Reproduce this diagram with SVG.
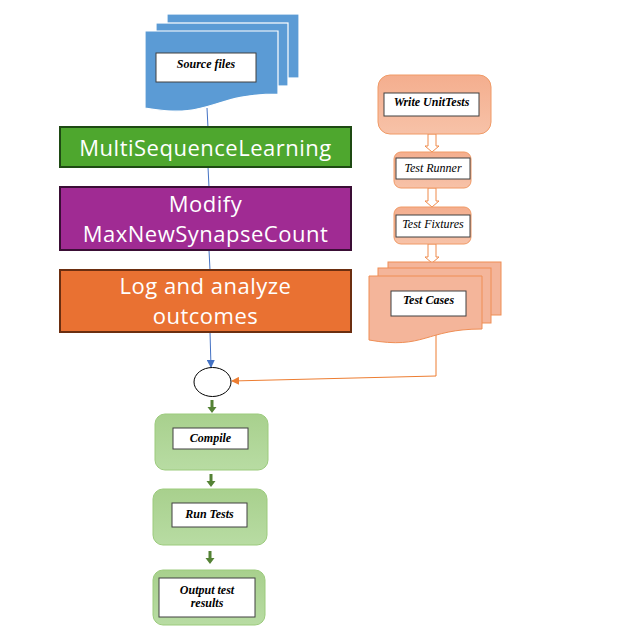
<svg xmlns="http://www.w3.org/2000/svg" width="642" height="642" viewBox="0 0 642 642">
<defs>
<style>
.doc{fill:#5B9BD5;stroke:#ffffff;stroke-width:1.2}
.odoc{fill:#F4B59A;stroke:#EF8E55;stroke-width:1}
.lbl{fill:#ffffff;stroke:#404040;stroke-width:1}
.sv{font-family:"Liberation Serif","Times New Roman",serif;font-size:12px;fill:#000;text-anchor:middle}
.bi{font-weight:bold;font-style:italic}
.it{font-style:italic}
.big{font-family:"Open Sans","Noto Sans",sans-serif;font-size:22px;letter-spacing:0.5px;fill:#ffffff;text-anchor:middle}
.gbox{fill:url(#gg);stroke:#9CCB7D;stroke-width:1}
.obox{fill:url(#og);stroke:#F09A66;stroke-width:1}
.harrow{fill:#ffffff;stroke:#EF8A4B;stroke-width:1}
.garrow{fill:#548235}
</style>
<linearGradient id="gg" x1="0" y1="0" x2="0" y2="1">
<stop offset="0" stop-color="#A8D08D"/><stop offset="1" stop-color="#B8DCA3"/>
</linearGradient>
<linearGradient id="og" x1="0" y1="0" x2="0" y2="1">
<stop offset="0" stop-color="#F4AE8E"/><stop offset="1" stop-color="#F7C2A8"/>
</linearGradient>
<marker id="ab" markerWidth="8" markerHeight="8" refX="7" refY="4" orient="auto" markerUnits="userSpaceOnUse">
<path d="M0,0 L8,4 L0,8 Z" fill="#4472C4"/>
</marker>
<marker id="ao" markerWidth="8" markerHeight="8" refX="7" refY="4" orient="auto" markerUnits="userSpaceOnUse">
<path d="M0,0 L8,4 L0,8 Z" fill="#ED7D31"/>
</marker>
</defs>

<g id="connectors">
<line x1="207" y1="108" x2="208" y2="128" stroke="#4472C4" stroke-width="1"/>
<line x1="208" y1="167" x2="209" y2="187" stroke="#4472C4" stroke-width="1"/>
<line x1="209" y1="250" x2="210" y2="270" stroke="#4472C4" stroke-width="1"/>
<line x1="210" y1="332" x2="211" y2="367" stroke="#4472C4" stroke-width="1" marker-end="url(#ab)"/>
<polyline points="436,334 436,376 232,381" fill="none" stroke="#ED7D31" stroke-width="1" marker-end="url(#ao)"/>
<path class="garrow" d="M210.5,400 h3 v7 h3 l-4.5,6 l-4.5,-6 h3 Z"/>
<path class="garrow" d="M209.5,474 h3 v7 h3 l-4.5,6 l-4.5,-6 h3 Z"/>
<path class="garrow" d="M208.5,551 h3 v7 h3 l-4.5,6 l-4.5,-6 h3 Z"/>
<path class="harrow" d="M428,134 h8 v12 h3 l-7,6 l-7,-6 h3 Z"/>
<path class="harrow" d="M428,188 h8 v13 h3 l-7,6 l-7,-6 h3 Z"/>
<path class="harrow" d="M428,244 h8 v13 h3 l-7,6 l-7,-6 h3 Z"/>
</g>

<g id="source-files">
<rect class="doc" x="167" y="14" width="132" height="64"/>
<rect class="doc" x="156" y="23" width="132" height="63"/>
<path class="doc" d="M145,31 H278 V94 C211,94 211,120 145,108 Z"/>
<rect class="lbl" x="156" y="53" width="100" height="29"/>
<text class="sv bi" x="206" y="68">Source files</text>
</g>

<g id="multisequencelearning">
<rect x="60" y="127" width="291" height="40" fill="#4EA72E" stroke="#1E4A13" stroke-width="2"/>
<text class="big" x="205.5" y="156">MultiSequenceLearning</text>
</g>

<g id="modify">
<rect x="60" y="187" width="291" height="63" fill="#A02B93" stroke="#3A0E35" stroke-width="2"/>
<text class="big" x="205.5" y="212">Modify</text>
<text class="big" x="205.5" y="242">MaxNewSynapseCount</text>
</g>

<g id="log">
<rect x="60" y="270" width="291" height="62" fill="#E97132" stroke="#6B2E10" stroke-width="2"/>
<text class="big" x="205.5" y="294">Log and analyze</text>
<text class="big" x="205.5" y="324">outcomes</text>
</g>

<g id="merge">
<ellipse cx="212.5" cy="382" rx="18.5" ry="14.5" fill="#ffffff" stroke="#000000" stroke-width="1"/>
</g>

<g id="compile">
<rect class="gbox" x="155" y="414" width="113" height="56" rx="10"/>
<rect class="lbl" x="173" y="428" width="75" height="21"/>
<text class="sv bi" x="210.5" y="442">Compile</text>
</g>

<g id="run-tests">
<rect class="gbox" x="153" y="489" width="114" height="56" rx="10"/>
<rect class="lbl" x="172" y="503" width="75" height="24"/>
<text class="sv bi" x="209.5" y="518">Run Tests</text>
</g>

<g id="output">
<rect class="gbox" x="153" y="570" width="112" height="55" rx="10"/>
<rect class="lbl" x="159" y="578" width="96" height="39"/>
<text class="sv bi" x="207" y="594">Output test</text>
<text class="sv bi" x="207" y="607">results</text>
</g>

<g id="write-unittests">
<rect class="obox" x="378" y="75" width="113" height="59" rx="12"/>
<rect class="lbl" x="384" y="93" width="95" height="23"/>
<text class="sv bi" x="431.5" y="106">Write UnitTests</text>
</g>

<g id="test-runner">
<rect class="obox" x="394" y="152" width="77" height="36" rx="7"/>
<rect class="lbl" x="396" y="158" width="74" height="21"/>
<text class="sv it" x="433" y="172">Test Runner</text>
</g>

<g id="test-fixtures">
<rect class="obox" x="394" y="207" width="77" height="37" rx="7"/>
<rect class="lbl" x="396" y="215" width="74" height="22"/>
<text class="sv it" x="433" y="228">Test Fixtures</text>
</g>

<g id="test-cases">
<rect class="odoc" x="388" y="262" width="113" height="53"/>
<rect class="odoc" x="378" y="268" width="113" height="55"/>
<path class="odoc" d="M369,276 H482 V329 C425,329 425,350 369,340 Z"/>
<rect class="lbl" x="391" y="291" width="75" height="25"/>
<text class="sv bi" x="428.5" y="304">Test Cases</text>
</g>
</svg>
